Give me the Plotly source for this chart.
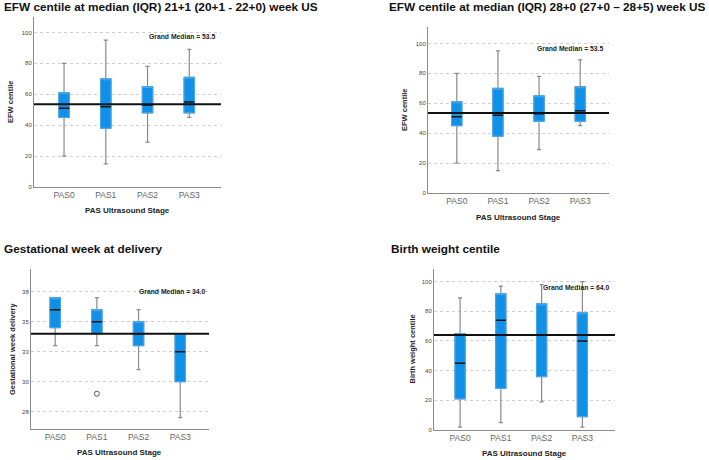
import plotly.graph_objects as go

categories = ["PAS0", "PAS1", "PAS2", "PAS3"]

# EFW centile (two identical panels)
efw_low = [20, 15, 29, 45]
efw_q1 = [45, 38, 48, 48]
efw_med = [51, 52, 53, 55]
efw_q3 = [61, 70, 65, 71]
efw_high = [80, 95, 78, 89]
efw_grand = 53.5

# Gestational week at delivery
gw_low = [33, 33, 31, 27]
gw_q1 = [34.5, 34, 33, 30]
gw_med = [36, 35, 34, 32.5]
gw_q3 = [37, 36, 35, 34]
gw_high = [37, 37, 36, 34]
gw_grand = 34.0
gw_outlier_cat = ["PAS1"]
gw_outlier_val = [29]
gw_tickvals = [27.5, 30, 32.5, 35, 37.5]
gw_ticktext = ["28", "30", "33", "35", "38"]

# Birth weight centile
bw_low = [2, 5, 19, 2]
bw_q1 = [21, 28, 36, 9]
bw_med = [45, 74, 64, 60]
bw_q3 = [65, 92, 85, 79]
bw_high = [89, 97, 98, 100]
bw_grand = 64.0

centile_ticks = [0, 20, 40, 60, 80, 100]

W, H = 709, 460
BLUE = "#1190e8"
EDGE = "#45aaf0"
GREY = "#8a8a8a"
FONT = "Liberation Sans, Arial, sans-serif"
NARROW = "Liberation Sans Narrow, Arial Narrow, Liberation Sans, sans-serif"

panels = [
    dict(title="EFW centile at median (IQR) 21+1 (20+1 - 22+0) week US", tx=2, ty=7, tanchor="left",
         box=(34, 221, 17, 187), yr=[0, 110], xr=[-0.72, 3.76],
         stats=(efw_low, efw_q1, efw_med, efw_q3, efw_high), grand=efw_grand,
         ytitle="EFW centile", ytx=10, tickvals=centile_ticks, ticktext=[str(v) for v in centile_ticks],
         gm=(218, 37), xtitle_y=210),
    dict(title="EFW centile at median (IQR) 28+0 (27+0 \u2013 28+5) week US", tx=707, ty=7, tanchor="right",
         box=(428, 609, 27, 193), yr=[0, 111], xr=[-0.70, 3.70],
         stats=(efw_low, efw_q1, efw_med, efw_q3, efw_high), grand=efw_grand,
         ytitle="EFW centile", ytx=405, tickvals=centile_ticks, ticktext=[str(v) for v in centile_ticks],
         gm=(606, 49), xtitle_y=217),
    dict(title="Gestational week at delivery", tx=2, ty=249, tanchor="left",
         box=(31, 209, 269, 429), yr=[26.06, 39.39], xr=[-0.58, 3.69],
         stats=(gw_low, gw_q1, gw_med, gw_q3, gw_high), grand=gw_grand,
         ytitle="Gestational week delivery", ytx=12, tickvals=gw_tickvals, ticktext=gw_ticktext,
         gm=(208, 291), xtitle_y=452),
    dict(title="Birth weight centile", tx=389, ty=249, tanchor="left",
         box=(434, 615, 269, 430), yr=[0, 108.5], xr=[-0.64, 3.80],
         stats=(bw_low, bw_q1, bw_med, bw_q3, bw_high), grand=bw_grand,
         ytitle="Birth weight centile", ytx=412, tickvals=centile_ticks, ticktext=[str(v) for v in centile_ticks],
         gm=(612, 287), xtitle_y=453),
]

fig = go.Figure()
annotations = []
shapes = []

for i, p in enumerate(panels):
    n = "" if i == 0 else str(i + 1)
    xa, ya = "x" + n, "y" + n
    x0, x1, y0, y1 = p["box"]
    low, q1, med, q3, high = p["stats"]
    # whiskers + box
    fig.add_trace(go.Box(x=categories, lowerfence=low, q1=q1, median=med, q3=q3, upperfence=high,
                         xaxis=xa, yaxis=ya, width=0.25, whiskerwidth=0.4,
                         fillcolor=BLUE, line=dict(color=GREY, width=1.2),
                         boxpoints=False, hoverinfo="skip", showlegend=False))
    # box body with light blue edge
    fig.add_trace(go.Box(x=categories, lowerfence=q1, q1=q1, median=q3, q3=q3, upperfence=q3,
                         xaxis=xa, yaxis=ya, width=0.25, whiskerwidth=0,
                         fillcolor=BLUE, line=dict(color=EDGE, width=1),
                         boxpoints=False, hoverinfo="skip", showlegend=False))
    # median line
    fig.add_trace(go.Box(x=categories, lowerfence=med, q1=med, median=med, q3=med, upperfence=med,
                         xaxis=xa, yaxis=ya, width=0.25, whiskerwidth=0,
                         fillcolor="rgba(0,0,0,0)", line=dict(color="#151515", width=1.5),
                         boxpoints=False, hoverinfo="skip", showlegend=False))
    if i == 2:
        fig.add_trace(go.Scatter(x=gw_outlier_cat, y=gw_outlier_val, mode="markers",
                                 xaxis=xa, yaxis=ya,
                                 marker=dict(symbol="circle-open", size=5, color="#555555", line=dict(width=1)),
                                 hoverinfo="skip", showlegend=False))
    # grand median line
    shapes.append(dict(type="line", xref=xa + " domain", yref=ya, x0=0, x1=1,
                       y0=p["grand"], y1=p["grand"], line=dict(color="#111111", width=2)))
    axis_x = dict(domain=[x0 / W, x1 / W], anchor=ya, type="category", range=p["xr"],
                  showline=True, linecolor=GREY, linewidth=1, showgrid=False, ticks="",
                  tickfont=dict(family=FONT, size=8.5, color="#666666"), automargin=False,
                  categoryorder="array", categoryarray=categories)
    axis_y = dict(domain=[1 - y1 / H, 1 - y0 / H], anchor=xa, range=p["yr"],
                  showline=True, linecolor=GREY, linewidth=1, showgrid=True,
                  gridcolor="#d0d0d0", griddash="dot", gridwidth=1, zeroline=False,
                  tickvals=p["tickvals"], ticktext=p["ticktext"], ticks="",
                  tickfont=dict(family=FONT, size=6, color="#444444"), automargin=False)
    fig.layout["xaxis" + n] = axis_x
    fig.layout["yaxis" + n] = axis_y
    # titles
    annotations.append(dict(text="<b>" + p["title"] + "</b>", xref="paper", yref="paper",
                            x=p["tx"] / W, y=1 - p["ty"] / H, xanchor=p["tanchor"], yanchor="middle",
                            showarrow=False, font=dict(family=FONT, size=11.8, color="#111111")))
    annotations.append(dict(text="<b>PAS Ultrasound Stage</b>", xref="paper", yref="paper",
                            x=((x0 + x1) / 2) / W, y=1 - p["xtitle_y"] / H, xanchor="center", yanchor="middle",
                            showarrow=False, font=dict(family=FONT, size=8, color="#222222")))
    annotations.append(dict(text="<b>" + p["ytitle"] + "</b>", xref="paper", yref="paper",
                            x=p["ytx"] / W, y=1 - ((y0 + y1) / 2) / H, xanchor="center", yanchor="middle",
                            textangle=-90, showarrow=False, font=dict(family=FONT, size=7.5, color="#222222")))
    annotations.append(dict(text="<b>Grand Median = %.1f</b>" % p["grand"], xref="paper", yref="paper",
                            x=p["gm"][0] / W, y=1 - p["gm"][1] / H, xanchor="right", yanchor="middle",
                            showarrow=False, font=dict(family=NARROW, size=6.8, color="#222222")))

fig.update_layout(width=W, height=H, margin=dict(l=0, r=0, t=0, b=0),
                  paper_bgcolor="white", plot_bgcolor="white", boxmode="overlay",
                  annotations=annotations, shapes=shapes, showlegend=False)

fig.write_html("out.html", config={"displayModeBar": False},
               post_script="document.body.style.margin='0px';")
